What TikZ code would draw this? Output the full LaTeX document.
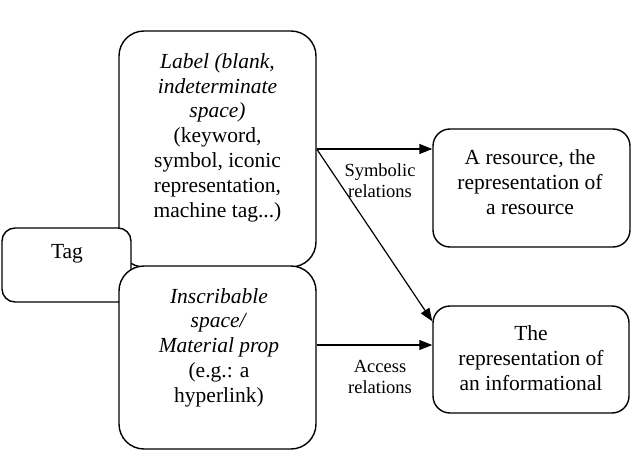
\documentclass[tikz,border=0pt]{standalone}
\usepackage{fontspec}
\setmainfont{Liberation Serif}
\newfontfamily\tnr{Liberation Serif}
\usetikzlibrary{arrows.meta,calc}
\begin{document}
\begin{tikzpicture}[x=1pt,y=-1pt,
  box/.style={draw=black,line width=1.4pt,fill=white,inner sep=0pt},
  big/.style={font=\tnr\fontsize{21.5}{24.8}\selectfont,align=center,inner sep=0pt},
  small/.style={font=\tnr\fontsize{18.5}{21}\selectfont,align=center,inner sep=0pt},
  conn/.style={line width=1.2pt,-{Triangle[length=13pt,width=10pt]}}]
\useasboundingbox (0,0) rectangle (638,455);
% Label box
\node[box,rounded corners=25pt,minimum width=197pt,minimum height=236pt] (lab) at (217.5,149) {};
\node[big] (labt) at (217.5,137.5) {\textit{Label (blank,}\\\textit{indeterminate}\\\textit{space)}\\(keyword,\\symbol, iconic\\representation,\\machine tag...)};
% Tag box
\node[box,rounded corners=13pt,minimum width=129pt,minimum height=74pt] (tag) at (66.5,265) {};
\node[big] (tagt) at (67,254) {Tag};
% Inscribable box
\node[box,rounded corners=25pt,minimum width=197pt,minimum height=183pt] (ins) at (217.5,357.5) {};
\node[big] (inst) at (219,347.5) {\textit{Inscribable}\\\textit{space/}\\\textit{Material prop}\\(e.g.: a\\hyperlink)};
% right boxes
\node[box,rounded corners=17pt,minimum width=197pt,minimum height=118pt] (rtop) at (531.5,188) {};
\node[big] (rtopt) at (530,182) {A resource, the\\representation of\\a resource};
\node[box,rounded corners=17pt,minimum width=196pt,minimum height=107pt] (rbot) at (531,359.5) {};
\node[big] (rbott) at (531,358) {The\\representation of\\an informational};
% connectors
\coordinate (dtip) at ($(rbot.north west)+(0,16)$);
\coordinate (astart) at ($(ins.east)+(0,-12.5)$);
\draw[conn] (lab.east) -- (lab.east -| rtop.west);
\draw[conn] (lab.east) -- (dtip);
\draw[conn] (astart) -- (astart -| rbot.west);
% labels
\node[small] (symt) at (380,180.5) {Symbolic\\relations};
\node[small] (acct) at (380,376.5) {Access\\relations};
\end{tikzpicture}
\end{document}
